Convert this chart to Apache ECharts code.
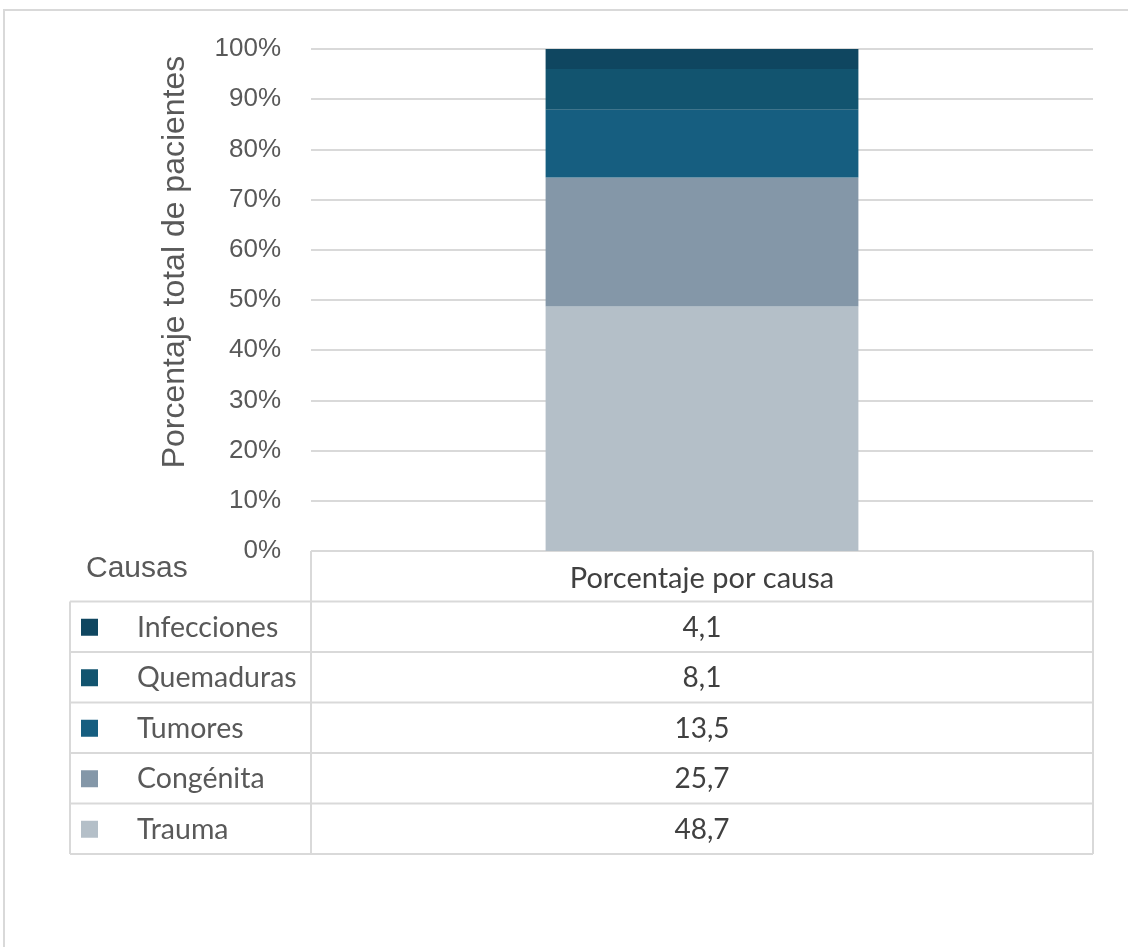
<!DOCTYPE html>
<html><head><meta charset="utf-8">
<script src="https://cdn.jsdelivr.net/npm/echarts@6/dist/echarts.min.js"></script>
<style>html,body{margin:0;padding:0;background:#fff}#c{width:1128px;height:947px}</style>
</head><body><div id="c"></div>
<script>
const categories = ['Porcentaje por causa'];
const causes = ['Trauma', 'Congénita', 'Tumores', 'Quemaduras', 'Infecciones'];
const values = [48.7, 25.7, 13.5, 8.1, 4.1];
const valueLabels = ['48,7', '25,7', '13,5', '8,1', '4,1'];
const colors = ['#b4bfc8', '#8497a8', '#165e80', '#12546f', '#0f4660'];
const yTicks = [0, 10, 20, 30, 40, 50, 60, 70, 80, 90, 100];

const FONT = 'Lato';
const AFONT = 'Liberation Sans';
const chart = echarts.init(document.getElementById('c'), null, {renderer: 'canvas'});
const series = causes.map((name, i) => ({
  name, type: 'bar', stack: 'total', barWidth: '40%',
  data: [values[i]], itemStyle: {color: colors[i]}, emphasis: {disabled: true}
}));
chart.setOption({
  animation: false,
  grid: {left: 311, top: 49, width: 782, height: 502, containLabel: false},
  xAxis: {type: 'category', data: categories, axisLine: {show: false}, axisTick: {show: false}, axisLabel: {show: false}},
  yAxis: {
    type: 'value', min: 0, max: 100, interval: 10,
    axisLabel: {formatter: v => yTicks.includes(v) ? v + '%' : '', color: '#595959', fontSize: 26, fontFamily: AFONT, margin: 30},
    splitLine: {lineStyle: {color: '#d9d9d9', width: 2}},
    name: 'Porcentaje total de pacientes', nameLocation: 'middle', nameGap: 120,
    nameTextStyle: {color: '#595959', fontSize: 32, fontFamily: AFONT, padding: [0, 0, 0, 76]}
  },
  series
});

const rect = chart.getModel().getComponent('grid').coordinateSystem.getRect();
const x0 = rect.x, x1 = rect.x + rect.width, yTop = rect.y + rect.height;
const rowH = 50.5, leftX = 70;
const lineStyle = {stroke: '#d9d9d9', lineWidth: 2};
const g = [];
g.push({type: 'rect', shape: {x: 4, y: 10, width: 1300, height: 1100}, style: {fill: null, stroke: '#d9d9d9', lineWidth: 2}, silent: true});
g.push({type: 'line', shape: {x1: x0, y1: yTop, x2: x1, y2: yTop}, style: lineStyle});
g.push({type: 'text', x: (x0 + x1) / 2, y: yTop + rowH / 2 + 2, style: {text: categories[0], fill: '#404040', fontSize: 29, fontFamily: FONT, align: 'center', verticalAlign: 'middle'}});
g.push({type: 'text', x: 86, y: yTop + 18, style: {text: 'Causas', fill: '#595959', fontSize: 30, fontFamily: AFONT, align: 'left', verticalAlign: 'middle'}});
const n = causes.length;
const yEnd = yTop + rowH * (n + 1);
g.push({type: 'line', shape: {x1: x0, y1: yTop, x2: x0, y2: yEnd}, style: lineStyle});
g.push({type: 'line', shape: {x1: x1, y1: yTop, x2: x1, y2: yEnd}, style: lineStyle});
g.push({type: 'line', shape: {x1: leftX, y1: yTop + rowH, x2: leftX, y2: yEnd}, style: lineStyle});
for (let r = 1; r <= n + 1; r++) {
  const y = yTop + rowH * r;
  g.push({type: 'line', shape: {x1: leftX, y1: y, x2: x1, y2: y}, style: lineStyle});
}
for (let r = 0; r < n; r++) {
  const i = n - 1 - r;
  const cy = yTop + rowH * (r + 1) + rowH / 2;
  g.push({type: 'rect', shape: {x: 81, y: cy - 8, width: 17, height: 17}, style: {fill: colors[i]}});
  g.push({type: 'text', x: 137, y: cy + 1, style: {text: causes[i], fill: '#595959', fontSize: 28.5, fontFamily: FONT, align: 'left', verticalAlign: 'middle'}});
  g.push({type: 'text', x: (x0 + x1) / 2, y: cy + 1, style: {text: valueLabels[i], fill: '#404040', fontSize: 28, fontFamily: FONT, align: 'center', verticalAlign: 'middle'}});
}
chart.setOption({graphic: g});
</script></body></html>
